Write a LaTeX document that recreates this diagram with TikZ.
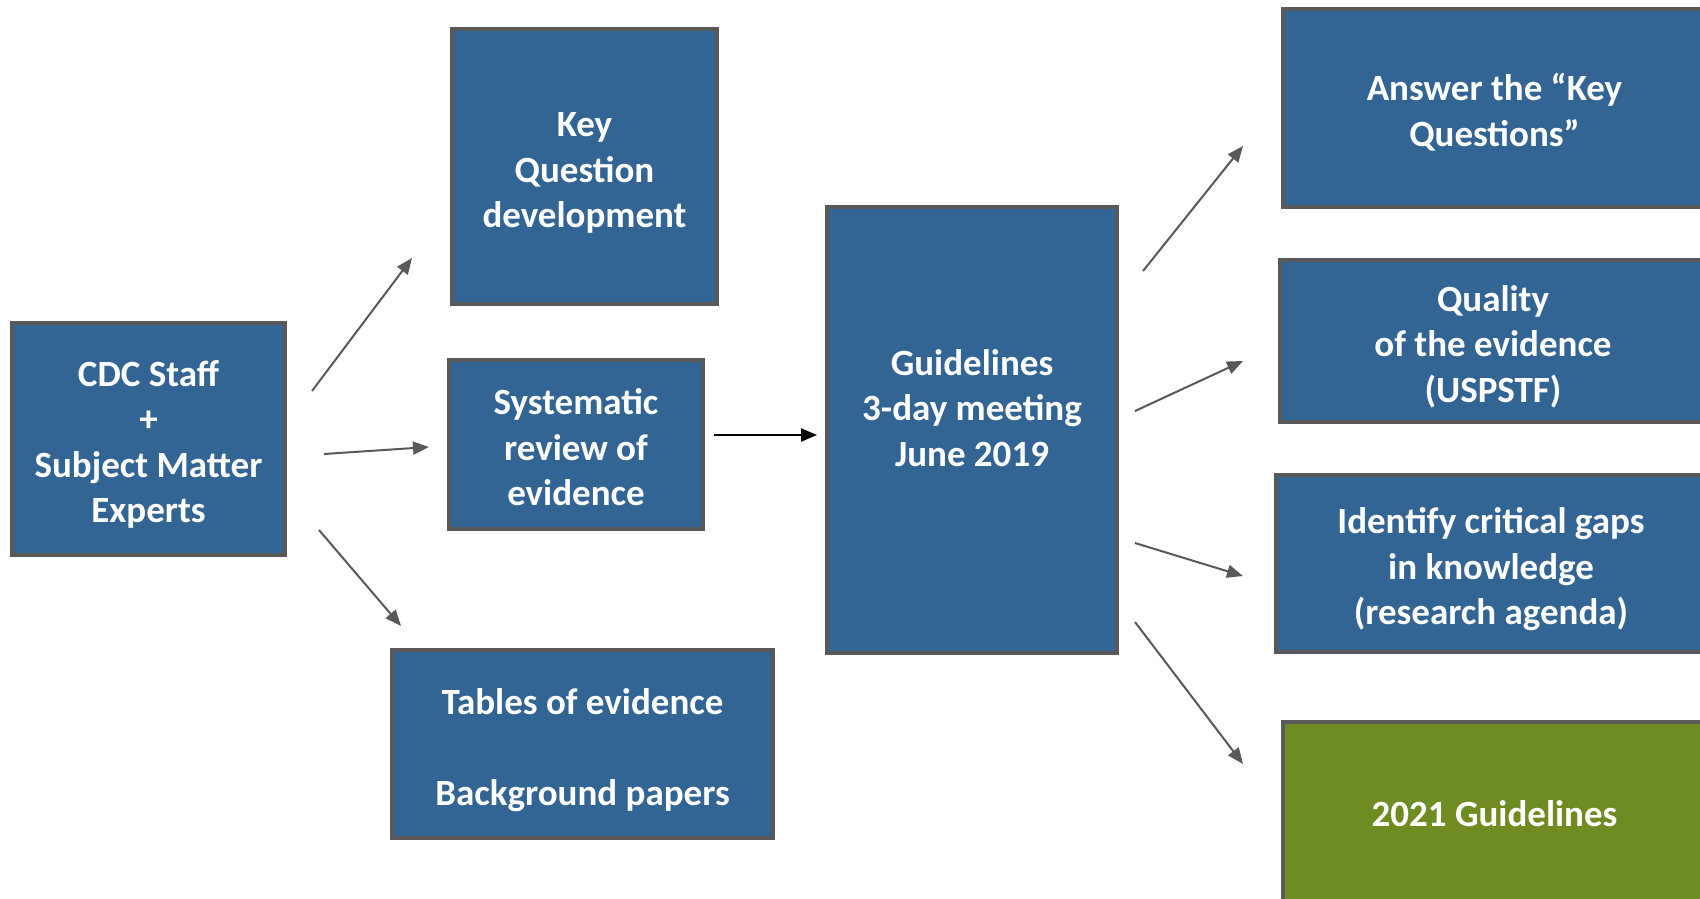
\documentclass[tikz,border=0pt]{standalone}
\usepackage{fontspec}
\setmainfont{Carlito}
\usetikzlibrary{arrows.meta}

\definecolor{boxblue}{RGB}{51,101,148}
\definecolor{boxgreen}{RGB}{111,140,35}
\definecolor{edgegray}{RGB}{89,89,89}

% struts giving every text block the same first-line height and last-line depth
\newcommand\upstrut{\rule{0pt}{40pt}}
\newcommand\dnstrut{\rule[-9pt]{0pt}{0pt}}

\tikzset{
  flowbox/.style={draw=edgegray, line width=3.5pt, fill=boxblue, text=white,
    inner sep=0pt, align=center,
    font=\fontsize{37}{45.5}\selectfont\bfseries},
  boxtext/.style={text=white, inner sep=0pt, align=center,
    font=\fontsize{37}{45.5}\selectfont\bfseries},
  arr/.style={draw=edgegray, line width=2pt,
    -{Triangle[length=16pt,width=13pt]}},
  darr/.style={draw=black, line width=2pt,
    -{Triangle[length=16pt,width=13pt]}},
}

\begin{document}
\begin{tikzpicture}[x=1pt, y=-1pt]
  % page frame
  \fill[white] (0,0) rectangle (1700,898);
  \useasboundingbox (0,0) rectangle (1700,898);
  \clip (0,0) rectangle (1700,898);

  % input side
  \node[flowbox, minimum width=273pt, minimum height=232pt] (cdc) at (148.5,439)
    {\upstrut CDC Staff\\+\\Subject Matter\\Experts\dnstrut};
  \node[flowbox, minimum width=265pt, minimum height=275pt] (kq) at (584.5,166.5)
    {\upstrut Key\\Question\\development\dnstrut};
  \node[flowbox, minimum width=254pt, minimum height=169pt] (sr) at (576,444.5)
    {\upstrut Systematic\\review of\\evidence\dnstrut};
  \node[flowbox, minimum width=381pt, minimum height=188pt] (tab) at (582.5,744)
    {\upstrut Tables of evidence\\[45.5pt]Background papers\dnstrut};

  % meeting
  \node[flowbox, minimum width=290pt, minimum height=446pt] (gm) at (972,430) {};
  \node[boxtext] (gmtext) at (972,408) {Guidelines\\3-day meeting\\June 2019};

  % outcomes (running off the right edge)
  \node[flowbox, minimum width=423pt, minimum height=198pt] (ans) at (1494.5,108)
    {\upstrut Answer the “Key\\Questions”\dnstrut};
  \node[flowbox, minimum width=426pt, minimum height=162pt] (qual) at (1493,341)
    {\upstrut Quality\\of the evidence\\(USPSTF)\dnstrut};
  \node[flowbox, minimum width=430pt, minimum height=177pt] (gaps) at (1491,563.5)
    {\upstrut Identify critical gaps\\in knowledge\\(research agenda)\dnstrut};
  \node[flowbox, fill=boxgreen, minimum width=423pt, minimum height=183pt] (g21) at (1494.5,813.5)
    {2021 Guidelines};

  % connector ends
  \coordinate (cdcA) at (312,391);  \coordinate (kqIn)   at (412,258);
  \coordinate (cdcB) at (324,454);  \coordinate (srIn)   at (429,447);
  \coordinate (cdcC) at (319,530);  \coordinate (tabIn)  at (401,626);
  \coordinate (srOut) at (714,435); \coordinate (gmIn)   at (817,435);
  \coordinate (gmA) at (1143,271);  \coordinate (ansIn)  at (1243,146);
  \coordinate (gmB) at (1135,411);  \coordinate (qualIn) at (1243,361);
  \coordinate (gmC) at (1135,543);  \coordinate (gapsIn) at (1243,576);
  \coordinate (gmD) at (1135,622);  \coordinate (g21In)  at (1243,764);

  % connectors
  \draw[arr] (cdcA) -- (kqIn);
  \draw[arr] (cdcB) -- (srIn);
  \draw[arr] (cdcC) -- (tabIn);
  \draw[darr] (srOut) -- (gmIn);
  \draw[arr] (gmA) -- (ansIn);
  \draw[arr] (gmB) -- (qualIn);
  \draw[arr] (gmC) -- (gapsIn);
  \draw[arr] (gmD) -- (g21In);
\end{tikzpicture}
\end{document}
